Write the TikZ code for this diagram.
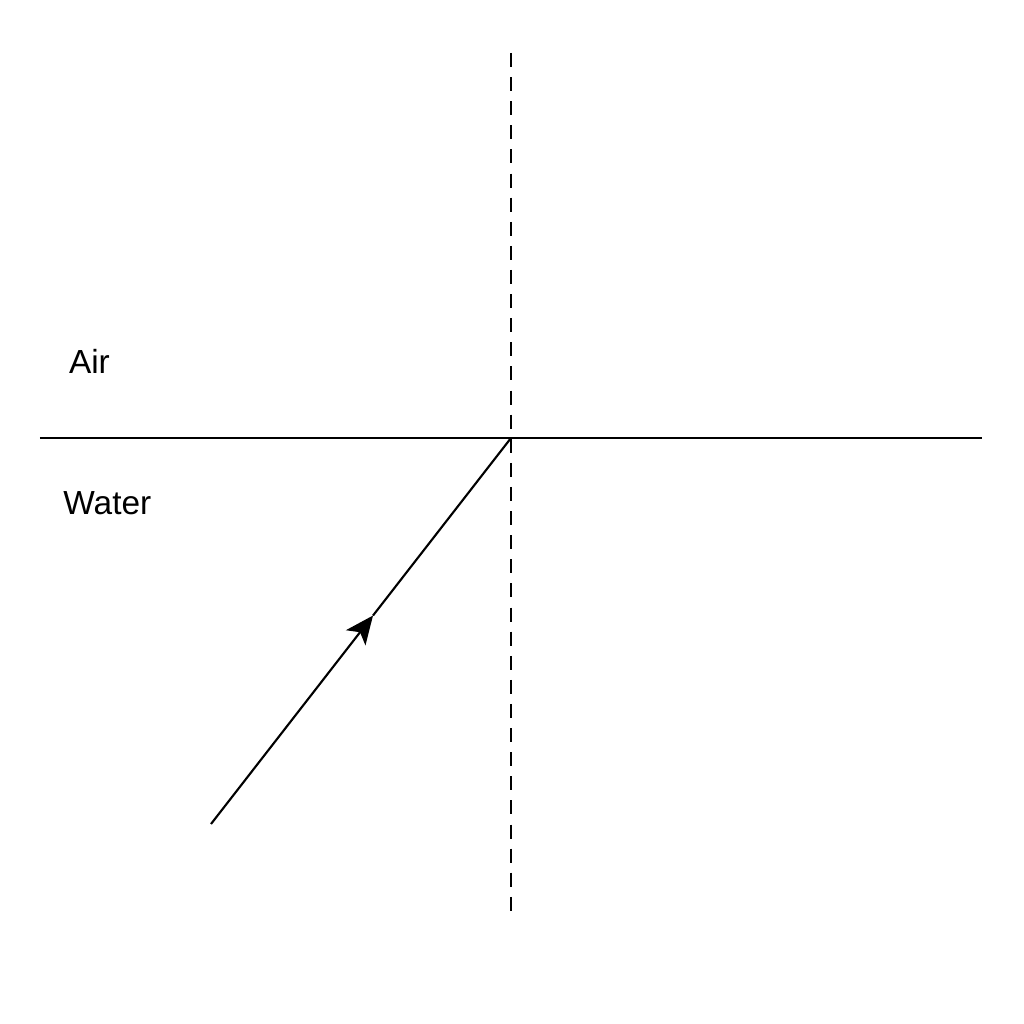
\documentclass[tikz,border=0pt]{standalone}
\usepackage{fontspec}
\setmainfont{Liberation Sans}
\usetikzlibrary{arrows.meta,calc}

\begin{document}
\begin{tikzpicture}[
        surface/.style={draw=black, semithick},
        normalline/.style={draw=black, semithick, dash pattern=on 4pt off 2.86pt},
        ray/.style={draw=black, semithick},
        medium/.style={anchor=base west, inner sep=0pt, font=\fontsize{9.5}{11}\selectfont}
        ]
        \useasboundingbox (0,0) rectangle (10.24,10.24);
        \coordinate (sl) at (0.40,5.86);
        \coordinate (sr) at (9.82,5.86);
        \coordinate (O) at (5.11,5.86);
        \coordinate (ntop) at (5.11,9.71);
        \coordinate (nbot) at (5.11,1.11);
        \coordinate (src) at (2.11,2.00);
        \coordinate (tip) at ($(src)!0.54!(O)$);

        \node[medium] (air) at (0.683,6.507) {Air};
        \node[medium] (water) at (0.627,5.09) {Water};

        \draw[surface] (sl) -- (sr);
        \draw[normalline] (ntop) -- (nbot);
        % incident ray, arrow half way
        \draw[ray, -{Stealth[length=8pt, width=7pt, inset=2pt]}] (src) -- (tip);
        \draw[ray] (tip) -- (O);
    \end{tikzpicture}
\end{document}
